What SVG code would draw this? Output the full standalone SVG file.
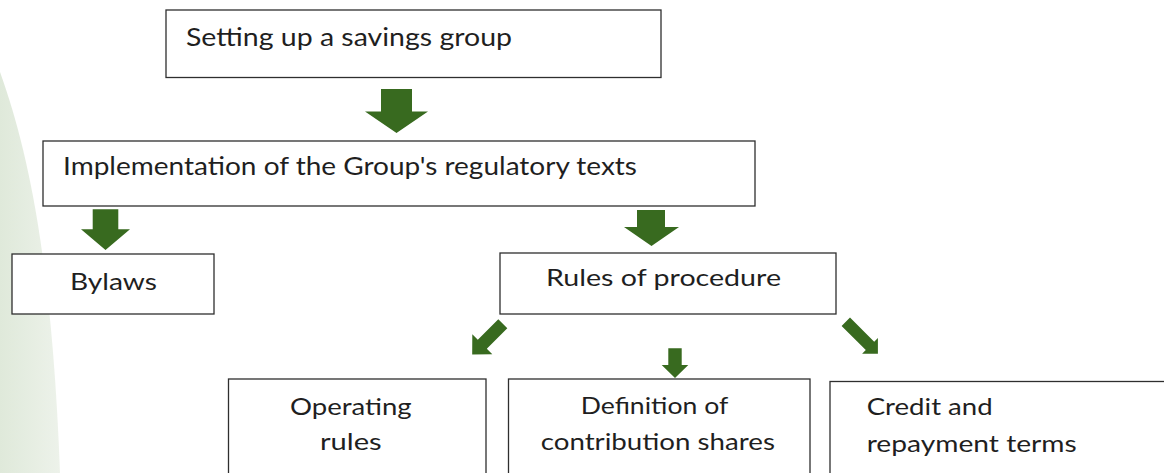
<svg xmlns="http://www.w3.org/2000/svg" width="1164" height="473" viewBox="0 0 1164 473">
  <defs>
    <linearGradient id="bg" x1="0" y1="0" x2="1" y2="0">
      <stop offset="0" stop-color="#dfe9da"/>
      <stop offset="1" stop-color="#edf2ea"/>
    </linearGradient>
    <style>
      .box { fill: #ffffff; stroke: #2e2e2e; stroke-width: 1.3; }
      .t { font-family: Lato, "Liberation Sans", sans-serif; font-size: 24px; fill: #1f1f1f; }
      .arr { fill: #386a1f; }
    </style>
  </defs>
  <rect x="0" y="0" width="1164" height="473" fill="#ffffff"/>
  <path d="M0,72 C28,150 52,260 60,473 L0,473 Z" fill="url(#bg)"/>

  <g id="connectors">
    <polygon class="arr" points="381,89 412,89 412,111.5 428,111.5 396.5,133 365,111.5 381,111.5"/>
    <polygon class="arr" points="92.7,209.3 118.3,209.3 118.3,229.3 130,229.3 105.5,250 81,229.3 92.7,229.3"/>
    <polygon class="arr" points="637,210 665,210 665,227 679,227 651.5,246 624,227 637,227"/>
    <polygon class="arr" points="668.3,348.3 681.7,348.3 681.7,365 688.3,365 675,378 661.7,365 668.3,365"/>
    <polygon class="arr" points="507.3,328.3 486.8,348.8 492.3,354.3 472.2,354.4 472.3,334.3 477.8,339.8 498.3,319.3"/>
    <polygon class="arr" points="841.6,325.9 865.8,350.1 862.1,353.8 877.9,353.8 877.9,338 874.2,341.7 850,317.5"/>
  </g>

  <g id="node-setup">
    <rect class="box" x="166" y="10" width="495" height="67.5"/>
    <text class="t" x="186" y="46" textLength="326" lengthAdjust="spacingAndGlyphs" style="font-size:25px">Setting up a savings group</text>
  </g>
  <g id="node-implementation">
    <rect class="box" x="43" y="141" width="712" height="65"/>
    <text class="t" x="63" y="175" textLength="574" lengthAdjust="spacingAndGlyphs" style="font-size:25px">Implementation of the Group's regulatory texts</text>
  </g>
  <g id="node-bylaws">
    <rect class="box" x="12" y="254" width="202" height="60"/>
    <text class="t" x="70" y="290" textLength="87" lengthAdjust="spacingAndGlyphs">Bylaws</text>
  </g>
  <g id="node-rules">
    <rect class="box" x="500" y="253" width="336" height="61"/>
    <text class="t" x="546" y="286" textLength="235" lengthAdjust="spacingAndGlyphs">Rules of procedure</text>
  </g>
  <g id="node-operating">
    <rect class="box" x="228.5" y="379" width="257.5" height="120"/>
    <text class="t" x="290" y="415" textLength="121.7" lengthAdjust="spacingAndGlyphs">Operating</text>
    <text class="t" x="320" y="450" textLength="61.7" lengthAdjust="spacingAndGlyphs">rules</text>
  </g>
  <g id="node-definition">
    <rect class="box" x="508.5" y="379" width="301.5" height="120"/>
    <text class="t" x="580.7" y="414" textLength="147.6" lengthAdjust="spacingAndGlyphs">Definition of</text>
    <text class="t" x="540.7" y="450" textLength="234.3" lengthAdjust="spacingAndGlyphs">contribution shares</text>
  </g>
  <g id="node-credit">
    <rect class="box" x="830" y="381.5" width="340" height="120"/>
    <text class="t" x="866.7" y="415" textLength="126" lengthAdjust="spacingAndGlyphs">Credit and</text>
    <text class="t" x="866.7" y="451.5" textLength="210" lengthAdjust="spacingAndGlyphs">repayment terms</text>
  </g>
</svg>
